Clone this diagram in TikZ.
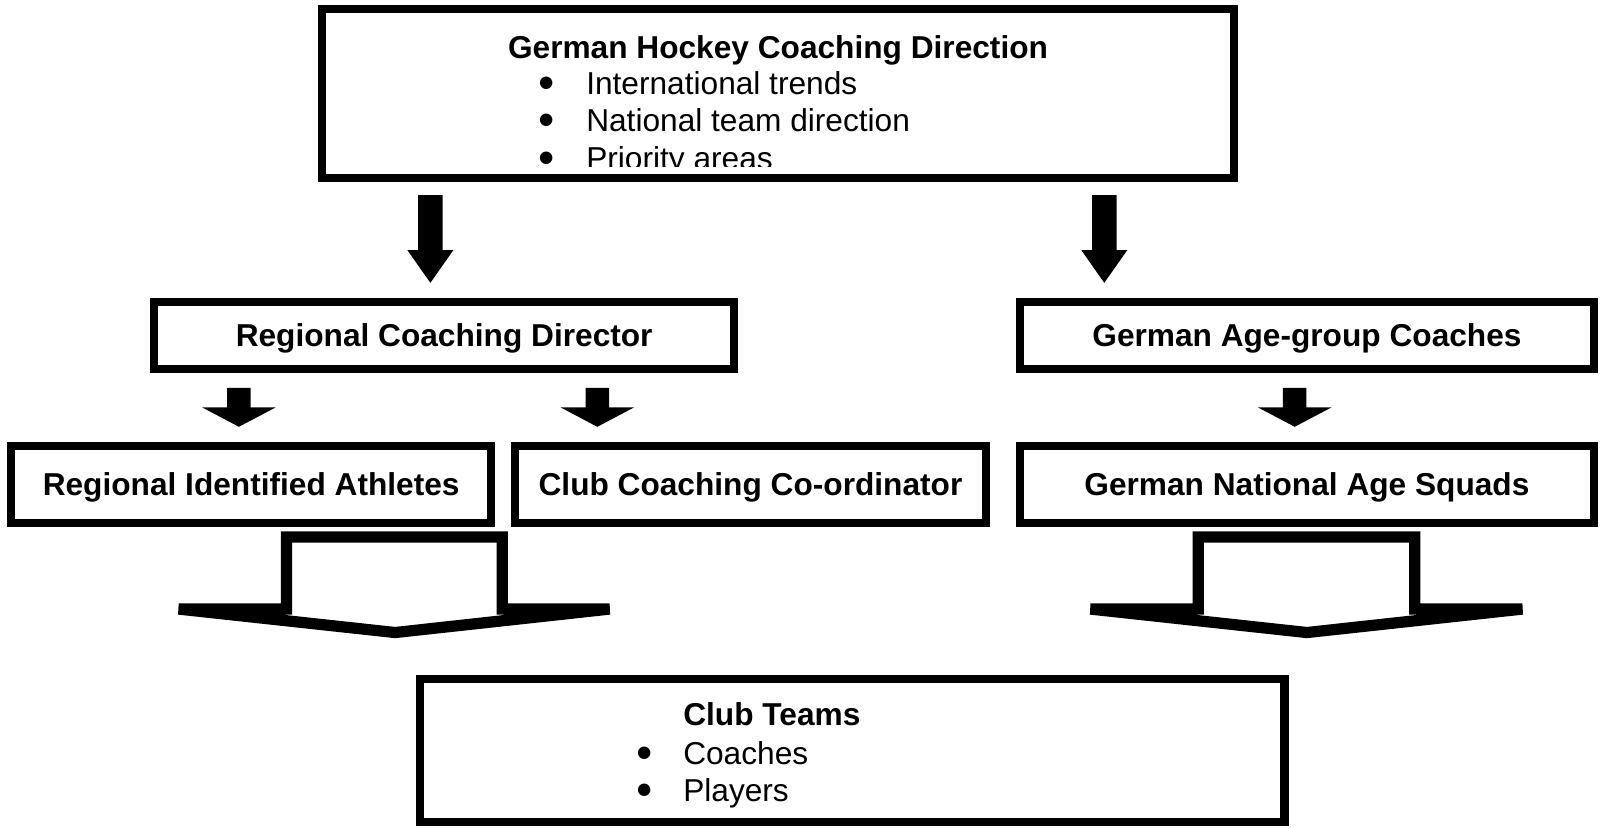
\documentclass[tikz,border=0pt]{standalone}
\usepackage{fontspec}
\setmainfont{Liberation Sans}
\newfontfamily\bulletfont{DejaVu Sans}
\begin{document}
\begin{tikzpicture}[x=1pt,y=-1pt,
  box/.style={draw=black, line width=8pt, inner sep=0pt, text height=22pt, text depth=0pt,
    font=\fontsize{31}{36}\selectfont\bfseries},
  btext/.style={inner sep=0pt, anchor=base, font=\fontsize{31}{36}\selectfont\bfseries},
  itemtext/.style={inner sep=0pt, anchor=base west, font=\fontsize{31}{36}\selectfont},
  bul/.style={inner sep=0pt, anchor=center, font=\bulletfont\fontsize{16}{16}\selectfont},
  solidarrow/.style={fill=black},
  hollowarrow/.style={draw=black, line width=11pt, line join=miter, fill=white}]
\useasboundingbox (0,0) rectangle (1568,810);
\fill[white] (0,0) rectangle (1568,810);

% top box
\node[box, minimum width=893pt, minimum height=165pt] (top) at (762,91.5) {};
\node[btext] (toptitle) at (762,57) {German Hockey Coaching Direction};
\node[bul] (b1) at (535,82) {●};
\node[itemtext] (t1) at (574,93) {International trends};
\node[bul] (b2) at (535,118) {●};
\node[itemtext] (t2) at (574,129) {National team direction};
\begin{scope}
  \clip (320,0) rectangle (1200,163);
  \node[bul] (b3) at (535,155) {●};
  \node[itemtext] (t3) at (574,166) {Priority areas};
\end{scope}

% second row
\node[box, minimum width=568pt, minimum height=65pt] (rcd) at (435,328.5) {Regional Coaching Director};
\node[box, minimum width=562pt, minimum height=65pt] (gac) at (1280,328.5) {German Age-group Coaches};

% third row
\node[box, minimum width=470pt, minimum height=75pt] (ria) at (246,474.5) {Regional Identified Athletes};
\node[box, minimum width=462pt, minimum height=75pt] (ccc) at (735,474.5) {Club Coaching Co-ordinator};
\node[box, minimum width=562pt, minimum height=75pt] (gnas) at (1280,474.5) {German National Age Squads};

% club teams
\node[box, minimum width=847pt, minimum height=140pt] (club) at (834.5,735) {};
\node[inner sep=0pt, anchor=base west, font=\fontsize{31}{36}\selectfont\bfseries] (ctitle) at (669,711) {Club Teams};
\node[bul] (cb1) at (631,738) {●};
\node[itemtext] (ct1) at (669,749) {Coaches};
\node[bul] (cb2) at (631,774) {●};
\node[itemtext] (ct2) at (669,785) {Players};

% big solid arrows
\foreach \cx in {421.5,1081.5}{
  \fill[solidarrow] (\cx-12,191) -- (\cx+12,191) -- (\cx+12,245) -- (\cx+22.5,245)
    -- (\cx,277) -- (\cx-22.5,245) -- (\cx-12,245) -- cycle;
}
% small solid arrows
\foreach \cx in {234,585,1268}{
  \fill[solidarrow] (\cx-11.5,380) -- (\cx+11.5,380) -- (\cx+11.5,399) -- (\cx+36,399)
    -- (\cx,418) -- (\cx-36,399) -- (\cx-11.5,399) -- cycle;
}
% hollow arrows
\draw[hollowarrow] (280.5,596.5) -- (280.5,526) -- (492,526) -- (492,596.5)
  -- (597,596.5) -- (387,619.5) -- (175,596.5) -- cycle;
\draw[hollowarrow] (1173.5,596.5) -- (1173.5,526) -- (1385.5,526) -- (1385.5,596.5)
  -- (1491,596.5) -- (1280,619.5) -- (1068,596.5) -- cycle;
\end{tikzpicture}
\end{document}
